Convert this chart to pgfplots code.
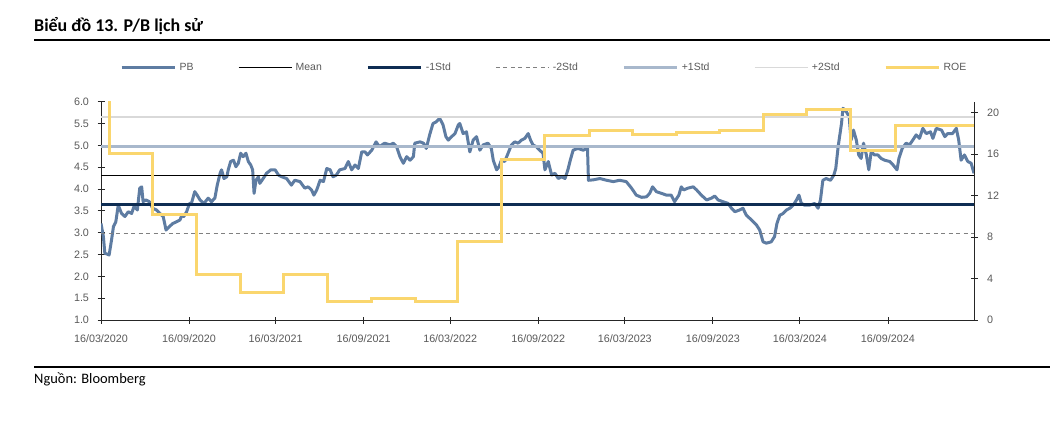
\documentclass[border=0pt]{standalone}
\usepackage{fontspec}
\setmainfont{Liberation Sans}
\newfontfamily\headfont{Carlito}
\usepackage{pgfplots}
\pgfplotsset{compat=1.18}

\definecolor{pbcol}{RGB}{94,124,162}
\definecolor{navy}{RGB}{14,45,83}
\definecolor{std1}{RGB}{168,184,204}
\definecolor{std2}{RGB}{217,217,217}
\definecolor{roecol}{RGB}{250,214,110}
\definecolor{ticktxt}{RGB}{89,89,89}

\pgfplotsset{
  pbstyle/.style={pbcol, line width=3bp, line join=round},
  meanstyle/.style={black, line width=1bp},
  m1style/.style={navy, line width=3bp},
  m2style/.style={gray, line width=1bp, dash pattern=on 4bp off 3.5bp},
  p1style/.style={std1, line width=3bp},
  p2style/.style={std2, line width=1.5bp},
  roestyle/.style={roecol, line width=3bp},
  common/.style={
    at={(101bp,109bp)}, anchor=south west,
    width=873bp, height=218.3bp, scale only axis,
    xmin=0, xmax=1825,
    tick align=center, major tick length=7bp,
    tick style={black!85, line width=0.8bp},
    axis line style={-, black!85, line width=0.9bp},
    tick label style={font=\fontsize{10.8}{12}\selectfont, text=ticktxt},
    /pgf/number format/assume math mode=true,
  },
}

\begin{document}
\begin{tikzpicture}[x=1bp,y=1bp]
\useasboundingbox (0,0) rectangle (1050,429);
\node[anchor=base west, inner sep=0, font=\headfont\bfseries\fontsize{18}{20}\selectfont] at (34,397.3) {Biểu đồ 13. P/B lịch sử};
\draw[line width=1.3bp] (34,389) -- (1050,389);
\draw[line width=1.3bp] (34,62) -- (1050,62);
\node[anchor=base west, inner sep=0, font=\headfont\fontsize{14.5}{16}\selectfont] at (34,46) {Nguồn: Bloomberg};

\begin{axis}[common,
  ymin=1, ymax=6,
  axis x line*=bottom, axis y line*=left,
  xtick={0,184,365,549,730,914,1095,1279,1461,1645},
  xticklabels={16/03/2020,16/09/2020,16/03/2021,16/09/2021,16/03/2022,16/09/2022,16/03/2023,16/09/2023,16/03/2024,16/09/2024},
  xticklabel style={yshift=-8bp},
  ytick={1,1.5,...,6},
  yticklabel style={xshift=-5bp, /pgf/number format/.cd, fixed, fixed zerofill, precision=1},
  legend columns=7,
  legend image code/.code={\draw[#1] (0bp,0bp) -- (53bp,0bp);},
  legend style={at={(0.0218,1.1557)}, anchor=west, draw=none, fill=none,
    inner sep=0pt, nodes={inner sep=0pt, text=ticktxt, font=\fontsize{10.5}{12}\selectfont},
    /tikz/every odd column/.append style={column sep=3.5bp},
    /tikz/every even column/.append style={column sep=44.5bp}},
]
\addplot[pbstyle] coordinates {
(0,3.21) (5,2.91) (8,2.53) (17,2.49) (22,2.83) (26,3.14) (31,3.25) (36,3.63) (43,3.44) (50,3.37) (57,3.48) (64,3.44) (69,3.60) (76,3.52) (81,4.02) (85,4.05) (88,3.71) (94,3.75) (101,3.71) (108,3.56) (116,3.52) (123,3.44) (130,3.37) (136,3.06) (143,3.14) (150,3.21) (158,3.25) (165,3.29) (169,3.40) (173,3.37) (179,3.48) (185,3.67) (189,3.67) (196,3.94) (201,3.86) (207,3.75) (215,3.67) (224,3.79) (231,3.71) (238,3.79) (243,4.09) (249,4.36) (252,4.44) (257,4.24) (263,4.28) (266,4.44) (271,4.63) (277,4.66) (282,4.51) (287,4.59) (292,4.82) (297,4.74) (303,4.82) (308,4.63) (313,4.55) (317,4.44) (320,3.90) (324,4.20) (329,4.28) (332,4.13) (339,4.24) (346,4.36) (355,4.44) (364,4.44) (371,4.32) (378,4.28) (388,4.24) (398,4.09) (405,4.20) (416,4.17) (426,4.02) (433,4.05) (440,3.98) (445,3.86) (451,3.98) (458,4.20) (465,4.17) (472,4.47) (479,4.44) (485,4.28) (492,4.32) (499,4.44) (510,4.47) (517,4.63) (524,4.44) (531,4.55) (538,4.47) (545,4.85) (552,4.85) (557,4.78) (566,4.89) (575,5.08) (582,4.97) (593,5.05) (604,5.01) (611,5.05) (618,4.97) (625,4.74) (632,4.59) (639,4.74) (646,4.66) (653,4.74) (656,5.05) (667,5.08) (674,5.05) (680,4.93) (687,5.24) (694,5.50) (701,5.54) (708,5.62) (715,5.47) (721,5.20) (726,5.12) (733,5.20) (740,5.27) (747,5.47) (750,5.50) (757,5.27) (764,5.31) (771,4.85) (778,5.12) (785,5.20) (792,4.89) (799,5.01) (809,5.05) (816,4.93) (820,4.66) (827,4.44) (832,4.51) (837,4.66) (844,4.63) (851,4.82) (858,5.01) (865,5.08) (872,5.05) (879,5.12) (886,5.16) (893,5.27) (898,5.12) (903,5.01) (910,4.97) (917,4.89) (924,4.82) (928,4.44) (935,4.63) (942,4.32) (949,4.36) (956,4.24) (963,4.28) (970,4.24) (976,4.44) (981,4.66) (987,4.89) (997,4.93) (1008,4.89) (1017,4.93) (1019,4.20) (1029,4.21) (1043,4.24) (1057,4.20) (1071,4.17) (1084,4.20) (1098,4.17) (1109,4.02) (1119,3.86) (1130,3.81) (1140,3.82) (1147,3.90) (1153,4.05) (1161,3.94) (1172,3.90) (1182,3.86) (1192,3.86) (1199,3.71) (1208,3.86) (1213,4.05) (1218,3.98) (1227,4.02) (1238,4.05) (1245,3.98) (1255,3.86) (1266,3.75) (1276,3.79) (1283,3.84) (1290,3.75) (1300,3.71) (1311,3.67) (1318,3.56) (1325,3.48) (1335,3.52) (1342,3.56) (1349,3.40) (1360,3.29) (1370,3.18) (1377,3.06) (1384,2.79) (1391,2.76) (1401,2.79) (1408,2.91) (1413,3.21) (1419,3.40) (1426,3.44) (1433,3.52) (1440,3.56) (1447,3.63) (1454,3.75) (1459,3.86) (1464,3.67) (1471,3.63) (1481,3.63) (1492,3.67) (1499,3.56) (1504,3.75) (1509,4.20) (1516,4.24) (1525,4.20) (1532,4.32) (1536,4.47) (1541,4.97) (1544,5.20) (1548,5.50) (1551,5.85) (1558,5.77) (1564,5.66) (1568,5.12) (1573,5.35) (1579,5.12) (1584,4.78) (1589,4.70) (1594,5.05) (1600,4.78) (1605,4.44) (1610,4.85) (1617,4.78) (1624,4.78) (1631,4.70) (1638,4.66) (1649,4.63) (1656,4.55) (1664,4.44) (1668,4.70) (1675,4.93) (1683,5.05) (1690,5.01) (1697,5.12) (1704,5.24) (1711,5.16) (1718,5.39) (1725,5.27) (1734,5.31) (1739,5.16) (1746,5.39) (1757,5.35) (1764,5.20) (1770,5.27) (1780,5.27) (1788,5.39) (1793,5.12) (1798,4.66) (1805,4.78) (1812,4.63) (1819,4.59) (1825,4.36)
};
\addlegendentry{PB}
\addplot[meanstyle] coordinates {(0,4.31) (1825,4.31)};
\addlegendentry{Mean}
\addplot[m1style] coordinates {(0,3.64) (1825,3.64)};
\addlegendentry{-1Std}
\addplot[m2style] coordinates {(0,2.97) (1825,2.97)};
\addlegendentry{-2Std}
\addplot[p1style] coordinates {(0,4.98) (1825,4.98)};
\addlegendentry{+1Std}
\addplot[p2style] coordinates {(0,5.65) (1825,5.65)};
\addlegendentry{+2Std}
\addlegendimage{roestyle}
\addlegendentry{ROE}
\end{axis}

\begin{axis}[common,
  ymin=0, ymax=21.05,
  axis x line=none, axis y line*=right,
  ytick={0,4,...,20},
  yticklabel style={xshift=6bp},
]
\addplot[roestyle, const plot] coordinates {
(0,24) (17,16.1) (108,10.2) (200,4.4) (292,2.7) (382,4.4) (474,1.77) (566,2.03) (658,1.77) (745,7.55) (837,15.5) (928,17.75) (1022,18.3) (1112,17.85) (1203,18.05) (1293,18.25) (1384,19.85) (1474,20.25) (1566,16.35) (1661,18.8) (1825,18.8)
};
\end{axis}
\end{tikzpicture}
\end{document}
